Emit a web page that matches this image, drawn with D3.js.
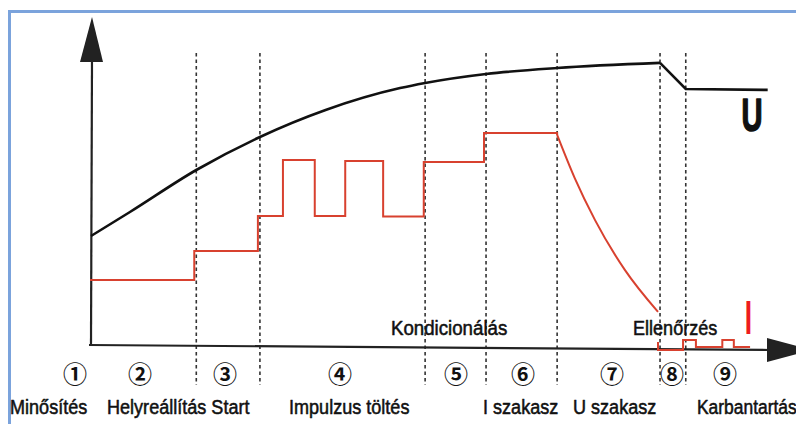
<!DOCTYPE html>
<html><head><meta charset="utf-8">
<script src="https://cdn.jsdelivr.net/npm/d3@7"></script>
<style>html,body{margin:0;padding:0;background:#fff;overflow:hidden}</style>
</head><body>
<svg id="c" width="796" height="424"></svg>
<script>
// ---- data (time 0..100 along the axis, level 0..100) ----
const phaseNumbers = ["①","②","③","④","⑤","⑥","⑦","⑧","⑨"];
const phaseNames = ["Minősítés","Helyreállítás Start","Impulzus töltés","I szakasz","U szakasz","Karbantartás"];
const upperNames = ["Kondicionálás","Ellenőrzés"];
const phaseBounds = [15.7, 25.1, 49.5, 58.5, 69.0, 84.2, 88.0];
// voltage U
const uRiseT = [0.15, 5.9, 15.7, 25.1, 34.8, 45.8, 49.5, 58.5, 69.0, 84.2];
const uRiseV = [36, 44, 58, 69, 78, 85.3, 87, 90, 92, 93.7];
const uTailT = [84.2, 88.0, 100.1];
const uTailV = [93.7, 85, 84.7];
// current I : step part
const iStepT = [0, 15.4, 24.8, 28.5, 33.2, 37.7, 43.3, 49.3, 58.2, 69.0];
const iStepV = [21.3, 31, 42.7, 61.3, 42.7, 61, 42.5, 60.7, 70.3, 69.7];
// current I : decay in U phase
const iDecayT = [69.0, 71.6, 74.6, 79.0, 83.9];
const iDecayV = [69.7, 55.3, 41.3, 24.7, 10.7];
// current I : maintenance pulses
const iMaintT = [83.9, 83.9, 87.6, 89.5, 93.4, 95.1, 97.5];
const iMaintV = [0.7, -2, 1.3, -1, 1.3, -1, -1];

// ---- layout ----
const svg = d3.select("#c");
const x = d3.scaleLinear().domain([0,100]).range([90,767]);
const y = d3.scaleLinear().domain([0,100]).range([344,44]);
const zip = (T,V) => T.map((t,i)=>[t,V[i]]);
const RED = "#d8412f";

// frame
svg.append("rect").attr("x",9.5).attr("y",11.5).attr("width",900).attr("height",500)
  .attr("fill","none").attr("stroke","#7ba3dc").attr("stroke-width",3);

// dashed phase borders
svg.selectAll("line.ph").data(phaseBounds).join("line")
  .attr("x1",d=>x(d)).attr("x2",d=>x(d)).attr("y1",53).attr("y2",385)
  .attr("stroke","#333").attr("stroke-width",1.6).attr("stroke-dasharray","3.5,3");

// axes
const axisC = "#222";
svg.append("line").attr("x1",91).attr("y1",y(0)).attr("x2",92).attr("y2",60)
  .attr("stroke",axisC).attr("stroke-width",2.2);
svg.append("path").attr("d","M92,17 L80,62 L103,62 Z").attr("fill","#222");
svg.append("line").attr("x1",89).attr("y1",345).attr("x2",770).attr("y2",350)
  .attr("stroke",axisC).attr("stroke-width",2.2);
svg.append("path").attr("d","M767,338 L812,350 L767,362 Z").attr("fill","#222");

// U curve
svg.append("path").datum(zip(uRiseT,uRiseV))
  .attr("d", d3.line().x(d=>x(d[0])).y(d=>y(d[1])).curve(d3.curveMonotoneX))
  .attr("fill","none").attr("stroke","#111").attr("stroke-width",2.6);
svg.append("path").datum(zip(uTailT,uTailV))
  .attr("d", d3.line().x(d=>x(d[0])).y(d=>y(d[1])))
  .attr("fill","none").attr("stroke","#111").attr("stroke-width",2.6);

// I curve
const iStyle = p => p.attr("fill","none").attr("stroke",RED).attr("stroke-width",2);
svg.append("path").datum(zip(iStepT,iStepV))
  .attr("d", d3.line().x(d=>x(d[0])).y(d=>y(d[1])).curve(d3.curveStepAfter)).call(iStyle);
svg.append("path").datum(zip(iDecayT,iDecayV))
  .attr("d", d3.line().x(d=>x(d[0])).y(d=>y(d[1])).curve(d3.curveMonotoneX)).call(iStyle);
svg.append("path").datum(zip(iMaintT,iMaintV))
  .attr("d", d3.line().x(d=>x(d[0])).y(d=>y(d[1])).curve(d3.curveStepAfter)).call(iStyle);

// text
const FONT = "'Liberation Sans', Arial, sans-serif";
function label(txt, px, py, opts={}) {
  return svg.append("text").text(txt)
    .attr("transform",`translate(${px},${py}) scale(${opts.sx||0.86},1)`)
    .attr("font-family",opts.font||FONT).attr("font-size",opts.size||21)
    .attr("font-weight",opts.weight||"normal").attr("fill",opts.fill||"#111")
    .attr("stroke",opts.fill||"#111").attr("stroke-width",opts.sw==null?0.55:opts.sw)
    .attr("stroke-linejoin","round")
    .attr("text-anchor",opts.anchor||"start");
}
const nameX = [10, 107, 289, 483, 573, 697];
const nameSX = [0.86, 0.86, 0.86, 0.86, 0.86, 0.83];
phaseNames.forEach((n,i)=>label(n, nameX[i], 414, {sx:nameSX[i]}));
label(upperNames[0], 391, 335, {sx:0.89});
label(upperNames[1], 633, 335);

const numX = [75, 140, 225, 340, 456, 523, 612, 672, 725];
phaseNumbers.forEach((n,i)=>{
  svg.append("text").text(n).attr("x",numX[i]).attr("y",372)
    .attr("font-family","'Noto Sans CJK SC', 'DejaVu Sans', sans-serif")
    .attr("font-size",24).attr("font-weight","bold")
    .attr("text-anchor","middle").attr("dominant-baseline","central")
    .attr("fill","#111");
});

label("U", 752, 131, {size:47, weight:"bold", sx:0.62, anchor:"middle", sw:1.6});
label("I", 748.5, 334, {size:48, weight:"bold", sx:0.55, anchor:"middle", fill:"#ee1c1c", sw:0});
</script>
</body></html>
